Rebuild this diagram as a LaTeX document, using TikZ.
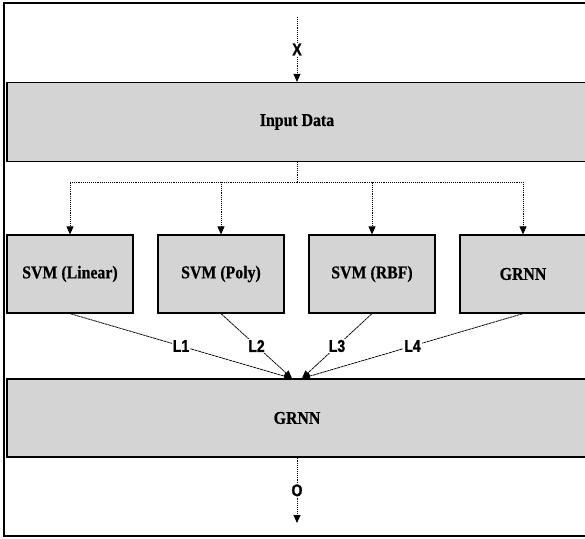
\documentclass[tikz,border=0pt]{standalone}
\usepackage{fontspec}
\setmainfont{Liberation Serif}
\newfontfamily\boxfont[FakeStretch=0.88,FakeBold=0.6]{Liberation Serif Bold}
\newfontfamily\labfont[FakeStretch=0.82,FakeBold=1.2]{Liberation Sans Bold}
\usetikzlibrary{arrows.meta}
\begin{document}
\begin{tikzpicture}[x=1pt,y=-1pt,
  box/.style={draw=black,line width=1.2pt,fill=black!17,inner sep=0pt,
    font=\boxfont\fontsize{18}{20}\selectfont},
  wide/.style={box,minimum width=580pt,minimum height=79pt},
  model/.style={box,minimum width=126pt,minimum height=78pt},
  dotline/.style={line width=0.9pt,dash pattern=on 1pt off 0.9pt},
  tip/.style={-{Triangle[width=7pt,length=8pt]}},
  diag/.style={line width=0.75pt,dash pattern=on 3pt off 0.6pt},
  lab/.style={font=\labfont\fontsize{17}{19}\selectfont,fill=white,inner sep=1pt}]
\useasboundingbox (0,0) rectangle (585,538);
\clip (0,0) rectangle (585,538);
\draw[line width=1.4pt] (4,3) rectangle (620,536);
\node[wide] (inp) at (297,122) {Input Data};
\node[model] (b1) at (70,274) {SVM (Linear)};
\node[model] (b2) at (221,274) {SVM (Poly)};
\node[model] (b3) at (372,274) {SVM (RBF)};
\node[model] (b4) at (523,274) {GRNN};
\node[wide,minimum height=78pt] (out) at (297,418) {GRNN};
\coordinate (xtop) at (297,17);
\coordinate (obot) at (297,523);
\coordinate (split) at (297,182);
\coordinate (t1) at ([xshift=-5pt]out.north);
\coordinate (t2) at ([xshift=5pt]out.north);
\draw[dotline,tip] (xtop) -- node[lab]{X} (inp.north);
\draw[dotline] (inp.south) -- (split);
\draw[dotline,tip] (split) -| (b1.north);
\draw[dotline,tip] (split) -| (b2.north);
\draw[dotline,tip] (split) -| (b3.north);
\draw[dotline,tip] (split) -| (b4.north);
\draw[diag,tip] (b1.south) -- node[lab]{L1} (t1);
\draw[diag,tip] (b2.south) -- node[lab]{L2} (t1);
\draw[diag,tip] (b3.south) -- node[lab]{L3} (t2);
\draw[diag,tip] (b4.south) -- node[lab]{L4} (t2);
\draw[dotline,tip] (out.south) -- node[lab]{O} (obot);
\end{tikzpicture}
\end{document}
